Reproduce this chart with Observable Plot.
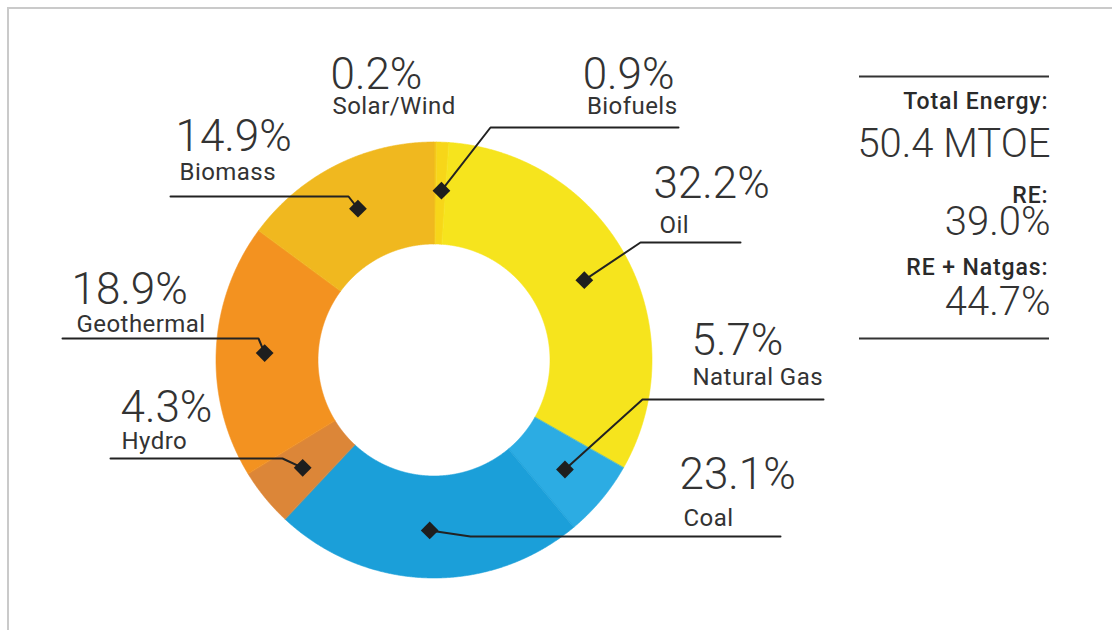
<!DOCTYPE html>
<html>
<head>
<meta charset="utf-8">
<script src="https://cdn.jsdelivr.net/npm/d3@7"></script>
<script src="https://cdn.jsdelivr.net/npm/@observablehq/plot@0.6"></script>
<style>
  html, body { margin: 0; padding: 0; background: #fff; }
  #wrap { position: relative; width: 1112px; height: 630px; overflow: hidden; background: #fff; }
  #frame { position: absolute; left: 7px; top: 7px; width: 1300px; height: 800px;
           border-top: 2px solid #cacaca; border-left: 2px solid #cacaca; }
  #chart { position: absolute; left: 0; top: 0; }
  #chart g[font-size="24"] text { letter-spacing: 0.45px; }
  #chart g[font-size="23"] text { letter-spacing: 0.9px; }
</style>
</head>
<body>
<div id="wrap"><div id="frame"></div><div id="chart"></div></div>
<script>
// ---------- data ----------
const categories = ["Solar/Wind", "Biofuels", "Oil", "Natural Gas", "Coal", "Hydro", "Geothermal", "Biomass"];
const shares     = [0.2, 0.9, 32.2, 5.7, 23.1, 4.3, 18.9, 14.9];
const sliceColors = ["#f3c41c", "#f7d619", "#f6e41d", "#2cace3", "#1b9fd9", "#dc8638", "#f39220", "#f0b81f"];
const summaryLabels = ["Total Energy:", "RE:", "RE + Natgas:"];
const summaryValues = ["50.4 MTOE", "39.0%", "44.7%"];

// ---------- layout (pixels) ----------
const W = 1112, H = 630;
const CX = 434, CY = 360, R_OUT = 218, R_IN = 116, R_DOT = 170;

// label placement: percent text, name text, leader (elbow / end)
const labelLayout = {
  "Solar/Wind":  {anchor: "start", px: 330, py: 88,  nx: 332, ny: 113, elbow: null, end: null},
  "Biofuels":    {anchor: "end",   px: 674, py: 88,  nx: 677, ny: 113, elbow: [490, 127], end: [678, 127]},
  "Oil":         {anchor: "start", px: 653, py: 197, nx: 659, ny: 232, elbow: [640, 242], end: [740, 242]},
  "Natural Gas": {anchor: "start", px: 691, py: 354, nx: 692, ny: 384, elbow: [642, 399], end: [823, 399]},
  "Coal":        {anchor: "start", px: 679, py: 488, nx: 683, ny: 525, elbow: [470, 536], end: [780, 536]},
  "Hydro":       {anchor: "start", px: 120, py: 421, nx: 121, ny: 448, elbow: [282, 458], end: [110, 458]},
  "Geothermal":  {anchor: "start", px: 71,  py: 303, nx: 76,  ny: 331, elbow: [258, 338], end: [62, 338]},
  "Biomass":     {anchor: "start", px: 175, py: 150, nx: 179, ny: 179, elbow: [348, 196], end: [170, 196]}
};
const panelRight = 1049;
const panelLabelY = [108, 202, 274];
const panelValueY = [156, 234, 314];
const panelRules = [76, 338];

// ---------- geometry from data ----------
const pie = d3.pie().sort(null).value(d => d).startAngle(0).endAngle(2 * Math.PI)(shares);
const arcPts = [];
const dots = [];
pie.forEach((a, i) => {
  const n = Math.max(2, Math.ceil((a.endAngle - a.startAngle) / 0.004));
  for (let k = 0; k <= n; k++) {
    const t = a.startAngle + (a.endAngle - a.startAngle) * k / n;
    arcPts.push({
      cat: categories[i],
      x1: CX + R_IN * Math.sin(t),  y1: CY - R_IN * Math.cos(t),
      x2: CX + R_OUT * Math.sin(t), y2: CY - R_OUT * Math.cos(t)
    });
  }
  const m = (a.startAngle + a.endAngle) / 2;
  dots.push({cat: categories[i], x: CX + R_DOT * Math.sin(m), y: CY - R_DOT * Math.cos(m)});
});

const fmt = d3.format(".1f");
const labels = categories.map((c, i) => ({cat: c, pct: fmt(shares[i]) + "%", ...labelLayout[c]}));

const leaderPts = [];
const leaderDots = [];
labels.forEach(l => {
  if (!l.end) return;
  const d = dots.find(p => p.cat === l.cat);
  leaderDots.push(d);
  leaderPts.push({cat: l.cat, x: d.x, y: d.y});
  if (l.elbow) leaderPts.push({cat: l.cat, x: l.elbow[0], y: l.elbow[1]});
  leaderPts.push({cat: l.cat, x: l.end[0], y: l.end[1]});
});

const panel = summaryLabels.map((s, i) => ({label: s, value: summaryValues[i], ly: panelLabelY[i], vy: panelValueY[i]}));

const FONT = "Roboto, 'Liberation Sans', sans-serif";
const LIGHT = "'Roboto Light', 'Roboto Lt', Roboto, sans-serif";
const textColor = "#333";

const textMarks = ["start", "end"].flatMap(anchor => {
  const sub = labels.filter(l => l.anchor === anchor);
  return [
    Plot.text(sub, {x: "px", y: "py", text: "pct", textAnchor: anchor, lineAnchor: "bottom",
      fontSize: 44, fontWeight: 300, fill: textColor, fontFamily: LIGHT}),
    Plot.text(sub, {x: "nx", y: "ny", text: "cat", textAnchor: anchor, lineAnchor: "bottom",
      fontSize: 24, fontWeight: 400, fill: textColor, fontFamily: FONT})
  ];
});

const chart = Plot.plot({
  width: W,
  height: H,
  margin: 0,
  style: {fontFamily: FONT, background: "transparent", overflow: "visible"},
  x: {type: "linear", domain: [0, W], range: [0, W], axis: null},
  y: {type: "linear", domain: [0, H], range: [0, H], axis: null},
  color: {domain: categories, range: sliceColors},
  marks: [
    Plot.area(arcPts, {x1: "x1", y1: "y1", x2: "x2", y2: "y2", z: "cat", fill: "cat", stroke: "cat", strokeWidth: 0.6}),
    Plot.line(leaderPts, {x: "x", y: "y", z: "cat", stroke: "#222", strokeWidth: 2}),
    Plot.dot(leaderDots, {x: "x", y: "y", symbol: "diamond2", r: 8, fill: "#1e1e1e", stroke: "none"}),
    ...textMarks,
    Plot.ruleY(panelRules, {x1: 859, x2: 1049, stroke: "#333", strokeWidth: 2}),
    Plot.text(panel, {x: panelRight - 1, y: "ly", text: "label", textAnchor: "end", lineAnchor: "bottom",
      fontSize: 23, fontWeight: 500, fill: "#2a2a2a", fontFamily: FONT}),
    Plot.text(panel, {x: panelRight + 1, y: "vy", text: "value", textAnchor: "end", lineAnchor: "bottom",
      fontSize: 40, fontWeight: 300, fill: textColor, fontFamily: LIGHT})
  ]
});
document.getElementById("chart").appendChild(chart);
</script>
</body>
</html>
